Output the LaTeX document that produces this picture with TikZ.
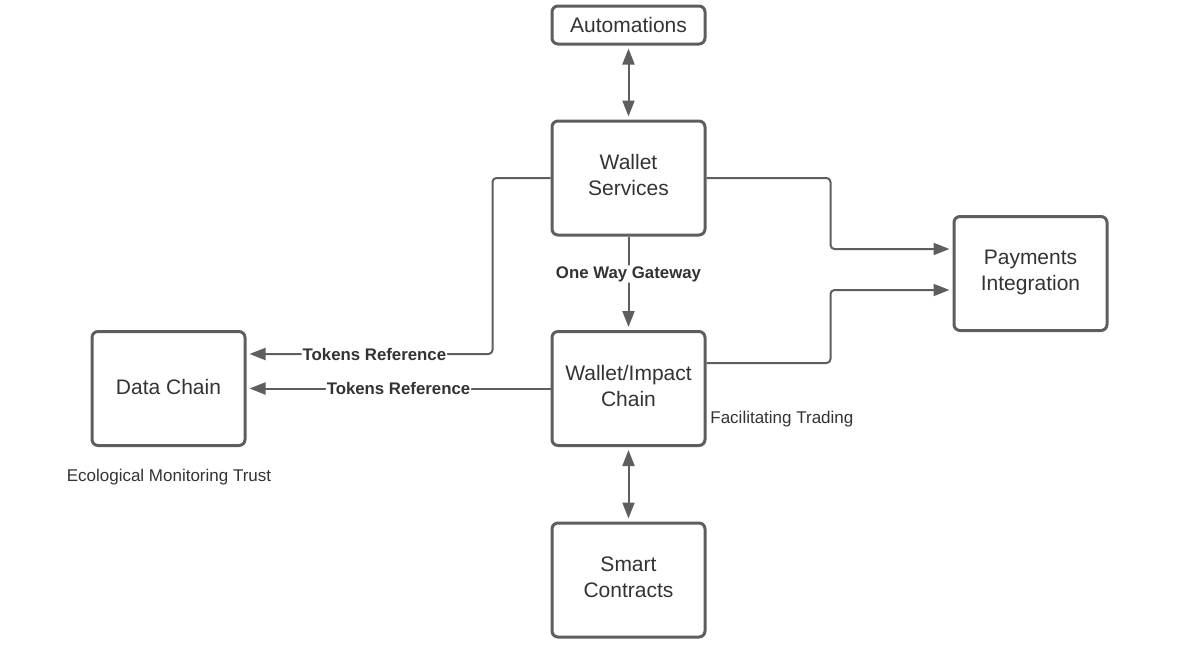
\documentclass[tikz,border=0pt]{standalone}
\usepackage{fontspec}
\setmainfont{Liberation Sans}
\usepackage{xcolor}
\usetikzlibrary{arrows.meta}
\definecolor{boxgray}{HTML}{5E5E5E}
\definecolor{txtgray}{HTML}{333333}

\begin{document}
\begin{tikzpicture}[x=0.5pt,y=-0.5pt,
    box/.style={draw=boxgray,line width=1.5pt,rounded corners=3pt,minimum width=76.5pt,minimum height=57pt,align=center,text=txtgray,font=\fontsize{10.5}{13}\selectfont},
    link/.style={draw=boxgray,line width=1pt,rounded corners=2pt,-{Triangle[length=8pt,width=6pt]},shorten >=1.5pt},
    both/.style={link,{Triangle[length=8pt,width=6pt]}-{Triangle[length=8pt,width=6pt]},shorten <=1.5pt},
    lbl/.style={fill=white,inner sep=0.5pt,text=txtgray,font=\bfseries\fontsize{8.4}{10}\selectfont},
    note/.style={text=txtgray,inner sep=0pt,font=\fontsize{8.5}{10}\selectfont}]
      \useasboundingbox (0,0) rectangle (1185,653);
      \node [box,minimum height=19pt] (auto) at (628.5,25) {Automations};
      \node [box,text depth=3pt] (ws) at (628.5,178) {Wallet\\Services};
      \node [box,text depth=3pt] (wic) at (628.5,388.5) {Wallet/Impact\\Chain};
      \node [box,text depth=3pt] (sc) at (628.5,580) {Smart\\Contracts};
      \node [box,text depth=2pt] (dc) at (168.5,388.5) {Data Chain};
      \node [box,text depth=3pt] (pi) at (1030.5,273.5) {Payments\\Integration};
      \node [note,anchor=west] (trade) at (710,419) {Facilitating Trading};
      \node [note] (emt) at (169,477) {Ecological Monitoring Trust};
      \draw [both] (auto) -- (ws);
      \draw [link] (ws) -- node [lbl,pos=0.4] {One Way Gateway} (wic);
      \draw [link] (ws.west) -- ++(-58,0) |- node [lbl,pos=0.74] {Tokens Reference} ([yshift=17.25pt]dc.east);
      \draw [link] (wic.west) -- node [lbl] {Tokens Reference} (dc.east);
      \draw [link] (ws.east) -- ++(124,0) |- ([yshift=12.25pt]pi.west);
      \draw [link] ([yshift=12.75pt]wic.east) -- ++(124,0) |- ([yshift=-8.25pt]pi.west);
      \draw [both] (wic) -- (sc);
    \end{tikzpicture}
\end{document}
